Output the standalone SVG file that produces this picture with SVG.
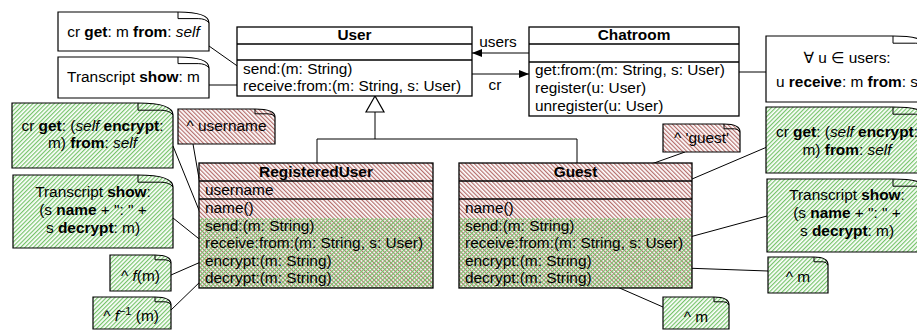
<svg xmlns="http://www.w3.org/2000/svg" width="917" height="331" viewBox="0 0 917 331">
<defs>
<pattern id="hr" patternUnits="userSpaceOnUse" width="3" height="3" patternTransform="rotate(-45)"><rect width="3" height="3" fill="#fff"/><rect width="1.2" height="3" fill="#b56e6c"/></pattern>
<pattern id="hg" patternUnits="userSpaceOnUse" width="3" height="3" patternTransform="rotate(45)"><rect width="3" height="3" fill="#fff"/><rect width="1.2" height="3" fill="#76c46a"/></pattern>
<pattern id="hgt" patternUnits="userSpaceOnUse" width="3" height="3" patternTransform="rotate(45)"><rect width="1.2" height="3" fill="#76c46a"/></pattern>
<marker id="ah" markerUnits="userSpaceOnUse" markerWidth="11" markerHeight="9" refX="10" refY="4" orient="auto"><path d="M0,0 L10,4 L0,8 Z" fill="#000"/></marker>
</defs>
<style>
text{font-family:"Liberation Sans",Arial,"DejaVu Sans",sans-serif;font-size:15.4px;fill:#000}
.b{font-weight:bold}
.i{font-style:italic}
.m{text-anchor:middle}
.box{stroke:#000;stroke-width:1.3}
.ln{stroke:#000;stroke-width:1.3;fill:none}
.note{stroke:#000;stroke-width:1.2}
.flap{stroke:#000;stroke-width:1;fill:none}
.c{stroke:#000;stroke-width:1;fill:none}
</style>

<g id="connectors">
<line class="c" x1="209" y1="46" x2="243" y2="70"/>
<line class="c" x1="209" y1="85" x2="243" y2="85"/>
<line class="c" x1="724" y1="72" x2="766" y2="72"/>
<line class="c" x1="529" y1="53" x2="472" y2="53" marker-end="url(#ah)"/>
<line class="c" x1="472" y1="74" x2="529" y2="74" marker-end="url(#ah)"/>
<text x="498" y="47" class="m">users</text>
<text x="495" y="90" class="m">cr</text>
<polyline class="c" points="375,112 375,139"/>
<polyline class="c" points="317,163 317,139 577,139 577,163"/>
<polygon points="375,96 366,112 384,112" fill="#fff" stroke="#000" stroke-width="1.2"/>
<line class="c" x1="193" y1="144" x2="204" y2="207"/>
<line class="c" x1="173" y1="146" x2="203" y2="220"/>
<line class="c" x1="173" y1="218" x2="203" y2="242"/>
<line class="c" x1="171" y1="275" x2="203" y2="261"/>
<line class="c" x1="171" y1="310" x2="203" y2="279"/>
<line class="c" x1="685" y1="152" x2="525" y2="209"/>
<line class="c" x1="767" y1="147" x2="582" y2="226"/>
<line class="c" x1="767" y1="216" x2="686" y2="238"/>
<line class="c" x1="599" y1="265" x2="768" y2="271"/>
<line class="c" x1="599" y1="279" x2="663" y2="307"/>
</g>

<g id="User">
<rect class="box" x="237" y="27" width="235" height="69" fill="#fff"/>
<line class="ln" x1="237" y1="44" x2="472" y2="44"/>
<line class="ln" x1="237" y1="60" x2="472" y2="60"/>
<text x="354.5" y="40" class="m b">User</text>
<text x="243" y="74">send:(m: String)</text>
<text x="243" y="91">receive:from:(m: String, s: User)</text>
</g>

<g id="Chatroom">
<rect class="box" x="529" y="27" width="210" height="89" fill="#fff"/>
<line class="ln" x1="529" y1="44" x2="739" y2="44"/>
<line class="ln" x1="529" y1="62" x2="739" y2="62"/>
<text x="634" y="40" class="m b">Chatroom</text>
<text x="535" y="75">get:from:(m: String, s: User)</text>
<text x="535" y="93">register(u: User)</text>
<text x="535" y="111">unregister(u: User)</text>
</g>

<g id="RegisteredUser">
<rect x="199" y="163" width="234" height="125" fill="url(#hr)"/>
<rect x="199" y="218" width="234" height="70" fill="url(#hgt)"/>
<rect class="box" x="199" y="163" width="234" height="125" fill="none"/>
<line class="ln" x1="199" y1="181" x2="433" y2="181"/>
<line class="ln" x1="199" y1="199" x2="433" y2="199"/>
<text x="316" y="177" class="m b">RegisteredUser</text>
<text x="205" y="195">username</text>
<text x="205" y="213">name()</text>
<text x="205" y="230.5">send:(m: String)</text>
<text x="205" y="248">receive:from:(m: String, s: User)</text>
<text x="205" y="265.5">encrypt:(m: String)</text>
<text x="205" y="283">decrypt:(m: String)</text>
</g>

<g id="Guest">
<rect x="459" y="163" width="233" height="125" fill="url(#hr)"/>
<rect x="459" y="218" width="233" height="70" fill="url(#hgt)"/>
<rect class="box" x="459" y="163" width="233" height="125" fill="none"/>
<line class="ln" x1="459" y1="181" x2="692" y2="181"/>
<line class="ln" x1="459" y1="199" x2="692" y2="199"/>
<text x="575.5" y="177" class="m b">Guest</text>
<text x="465" y="213">name()</text>
<text x="465" y="230.5">send:(m: String)</text>
<text x="465" y="248">receive:from:(m: String, s: User)</text>
<text x="465" y="265.5">encrypt:(m: String)</text>
<text x="465" y="283">decrypt:(m: String)</text>
</g>

<g id="note-crget">
<path class="note" fill="#fff" d="M58 12 H178 C196.6 12 209 15.3 209 23 V51 H58 Z"/>
<path class="flap" d="M178 12 V18.6 H198.2 Q205.9 18.6 209 23"/>
<text x="133.5" y="37" class="m">cr <tspan class="b">get</tspan>: m <tspan class="b">from</tspan>: <tspan class="i">self</tspan></text>
</g>

<g id="note-show">
<path class="note" fill="#fff" d="M58 57 H178 C196.6 57 209 60.3 209 68 V98 H58 Z"/>
<path class="flap" d="M178 57 V63.6 H198.2 Q205.9 63.6 209 68"/>
<text x="133.5" y="82" class="m">Transcript <tspan class="b">show</tspan>: m</text>
</g>

<g id="note-forall">
<path class="note" fill="#fff" d="M766 36 H893 C914 36 928 39.6 928 48 V102 H766 Z"/>
<path class="flap" d="M893 36 V43.2 H915.75 Q924.5 43.2 928 48"/>
<text x="847" y="63" class="m">∀ u ∈ users:</text>
<text x="847" y="87" class="m">u <tspan class="b">receive</tspan>: m <tspan class="b">from</tspan>: s</text>
</g>

<g id="note-ru-get">
<path class="note" fill="url(#hg)" d="M12 103 H138 C159 103 173 106.6 173 115 V168 H12 Z"/>
<path class="flap" d="M138 103 V110.2 H160.75 Q169.5 110.2 173 115"/>
<text x="92.5" y="131" class="m">cr <tspan class="b">get</tspan>: (<tspan class="i">self</tspan> <tspan class="b">encrypt</tspan>:</text>
<text x="92.5" y="148" class="m">m) <tspan class="b">from</tspan>: <tspan class="i">self</tspan></text>
</g>

<g id="note-ru-show">
<path class="note" fill="url(#hg)" d="M13 175 H138 C159 175 173 178.6 173 187 V248 H13 Z"/>
<path class="flap" d="M138 175 V182.2 H160.75 Q169.5 182.2 173 187"/>
<text x="93" y="197" class="m">Transcript <tspan class="b">show</tspan>:</text>
<text x="93" y="215" class="m">(s <tspan class="b">name</tspan> + ": " +</text>
<text x="93" y="233" class="m">s <tspan class="b">decrypt</tspan>: m)</text>
</g>

<g id="note-fm">
<path class="note" fill="url(#hg)" d="M110 255 H155 C164.6 255 171 257.4 171 263 V291 H110 Z"/>
<path class="flap" d="M155 255 V259.8 H165.4 Q169.4 259.8 171 263"/>
<text x="140.5" y="281" class="m">^ <tspan class="i">f</tspan>(m)</text>
</g>

<g id="note-finv">
<path class="note" fill="url(#hg)" d="M93 297 H155 C164.6 297 171 299.4 171 305 V329 H93 Z"/>
<path class="flap" d="M155 297 V301.8 H165.4 Q169.4 301.8 171 305"/>
<text x="131" y="321" class="m">^ <tspan class="i">f</tspan><tspan font-size="11" dy="-6">−1</tspan><tspan dy="6"> (m)</tspan></text>
</g>

<g id="note-username">
<path class="note" fill="url(#hr)" d="M178 109 H255 C267 109 275 111.4 275 117 V144 H178 Z"/>
<path class="flap" d="M255 109 V113.8 H268 Q273 113.8 275 117"/>
<text x="226.5" y="131" class="m">^ username</text>
</g>

<g id="note-guest">
<path class="note" fill="url(#hr)" d="M663 124 H724 C733.6 124 740 126.4 740 132 V152 H663 Z"/>
<path class="flap" d="M724 124 V128.8 H734.4 Q738.4 128.8 740 132"/>
<text x="701.5" y="143" class="m">^ 'guest'</text>
</g>

<g id="note-g-get">
<path class="note" fill="url(#hg)" d="M766 107 H893 C914 107 928 110.6 928 119 V173 H766 Z"/>
<path class="flap" d="M893 107 V114.2 H915.75 Q924.5 114.2 928 119"/>
<text x="847" y="137" class="m">cr <tspan class="b">get</tspan>: (<tspan class="i">self</tspan> <tspan class="b">encrypt</tspan>:</text>
<text x="847" y="155" class="m">m) <tspan class="b">from</tspan>: <tspan class="i">self</tspan></text>
</g>

<g id="note-g-show">
<path class="note" fill="url(#hg)" d="M767 179 H893 C914 179 928 182.6 928 191 V252 H767 Z"/>
<path class="flap" d="M893 179 V186.2 H915.75 Q924.5 186.2 928 191"/>
<text x="847" y="200" class="m">Transcript <tspan class="b">show</tspan>:</text>
<text x="847" y="218" class="m">(s <tspan class="b">name</tspan> + ": " +</text>
<text x="847" y="236" class="m">s <tspan class="b">decrypt</tspan>: m)</text>
</g>

<g id="note-m1">
<path class="note" fill="url(#hg)" d="M768 257 H814 C822.4 257 828 259.4 828 265 V293 H768 Z"/>
<path class="flap" d="M814 257 V261.8 H823.1 Q826.6 261.8 828 265"/>
<text x="798" y="282" class="m">^ m</text>
</g>

<g id="note-m2">
<path class="note" fill="url(#hg)" d="M663 297 H714 C723 297 729 299.4 729 305 V329 H663 Z"/>
<path class="flap" d="M714 297 V301.8 H723.75 Q727.5 301.8 729 305"/>
<text x="696" y="322" class="m">^ m</text>
</g>
</svg>
